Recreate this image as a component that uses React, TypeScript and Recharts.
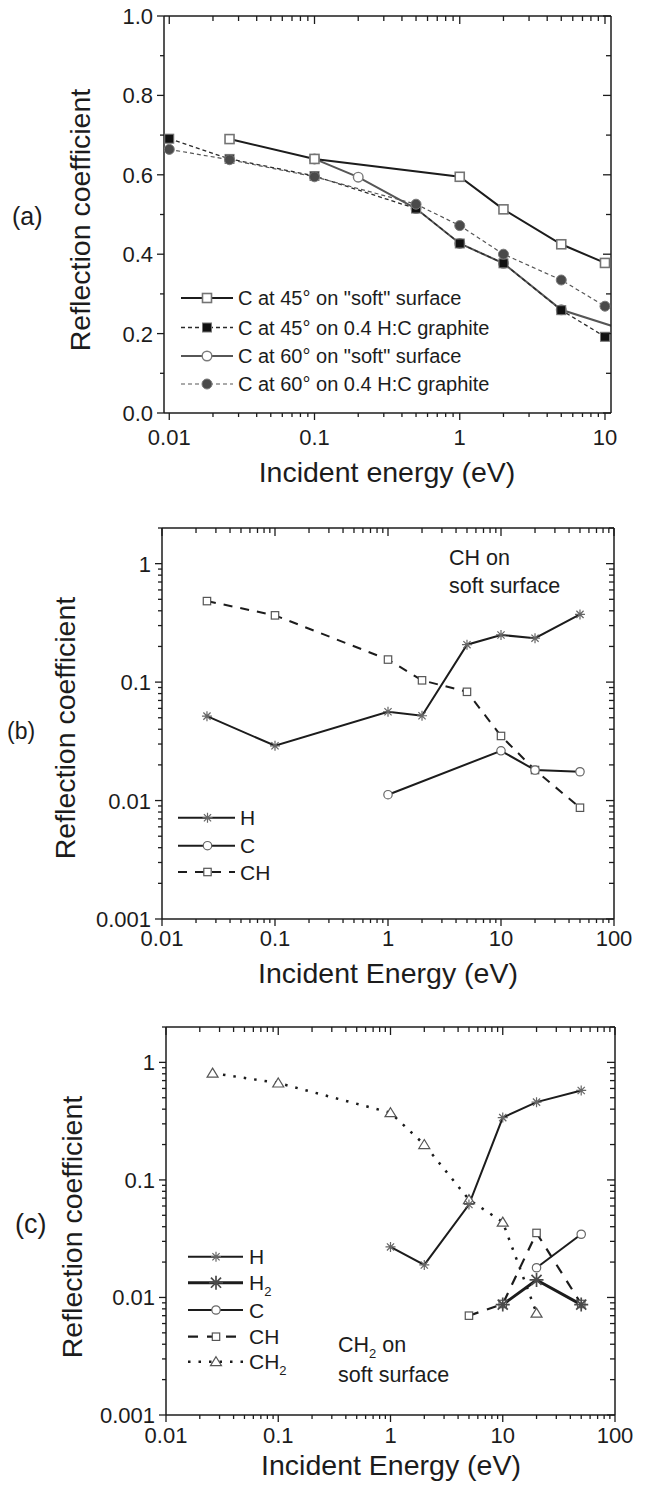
import React from "react";
import { Line, LineChart, XAxis, YAxis } from "recharts";

const FONT = '"Liberation Sans", Arial, Helvetica, sans-serif';
const INK = "#1c1c1c";
const MID = "#565656";
const EDGE = "#747474";
const W = 647;

// (a) C on "soft" surface vs. 0.4 H:C graphite (linear R)
const A_E45_SOFT = [0.026, 0.1, 1, 2, 5, 10];
const A_R45_SOFT = [0.69, 0.64, 0.595, 0.513, 0.425, 0.378];
const A_E45_GRAPH = [0.01, 0.026, 0.1, 0.5, 1, 2, 5, 10];
const A_R45_GRAPH = [0.691, 0.64, 0.597, 0.515, 0.427, 0.377, 0.259, 0.192];
const A_E60_SOFT = [0.1, 0.2, 0.5, 1, 2, 5, 20];
const A_R60_SOFT = [0.64, 0.594, 0.515, 0.427, 0.377, 0.26, 0.19];
const A_E60_GRAPH = [0.01, 0.026, 0.1, 0.5, 1, 2, 5, 10];
const A_R60_GRAPH = [0.664, 0.638, 0.595, 0.526, 0.472, 0.4, 0.335, 0.269];

// (b) CH on soft surface
const B_E_H = [0.025, 0.1, 1, 2, 5, 10, 20, 50];
const B_R_H = [0.0516, 0.029, 0.0562, 0.052, 0.207, 0.25, 0.235, 0.373];
const B_E_C = [1, 10, 20, 50];
const B_R_C = [0.0112, 0.0263, 0.0181, 0.0175];
const B_E_CH = [0.025, 0.1, 1, 2, 5, 10, 20, 50];
const B_R_CH = [0.483, 0.366, 0.155, 0.1035, 0.0828, 0.0351, 0.0181, 0.0087];

// (c) CH2 on soft surface
const C_E_H = [1, 2, 5, 10, 20, 50];
const C_R_H = [0.0269, 0.0189, 0.0618, 0.339, 0.459, 0.577];
const C_E_H2 = [10, 20, 50];
const C_R_H2 = [0.0087, 0.0141, 0.0087];
const C_E_C = [20, 50];
const C_R_C = [0.0179, 0.0345];
const C_E_CH = [5, 10, 20, 50];
const C_R_CH = [0.007, 0.0088, 0.0354, 0.0088];
const C_E_CH2 = [0.026, 0.1, 1, 2, 5, 10, 20];
const C_R_CH2 = [0.81, 0.668, 0.373, 0.2, 0.068, 0.0438, 0.00736];

// ticks
const A_X_MAJOR = [0.01, 0.1, 1, 10];
const BC_X_MAJOR = [0.01, 0.1, 1, 10, 100];
const BC_Y_MAJOR = [0.001, 0.01, 0.1, 1];
const A_Y_TICKS = [0, 0.1, 0.2, 0.3, 0.4, 0.5, 0.6, 0.7, 0.8, 0.9, 1.0];
const MINOR_STEPS = [2, 3, 4, 5, 6, 7, 8, 9];

const withMinor = (majors: number[], last: number) => {
  const out: number[] = [];
  majors.forEach((m) => {
    out.push(m);
    MINOR_STEPS.forEach((k) => {
      const v = +(m * k).toPrecision(6);
      if (v <= last) out.push(v);
    });
  });
  return out;
};

const isDecade = (v: number) => Math.abs(Math.log10(v) - Math.round(Math.log10(v))) < 1e-6;
const rows = (e: number[], r: number[]) => e.map((x, i) => ({ e: x, r: r[i] }));

type Mark = { kind: "sq" | "circ" | "star" | "tri"; size: number; fill: string; stroke: string; sw: number };
type Series = { id: string; e: number[]; r: number[]; stroke: string; width: number; dash?: string; mark: Mark };

function drawMark(m: Mark, cx: number, cy: number, key?: string) {
  const s = m.size;
  if (cx == null || cy == null || isNaN(cx) || isNaN(cy)) return <g key={key} />;
  if (m.kind === "sq")
    return <rect key={key} x={cx - s} y={cy - s} width={2 * s} height={2 * s} fill={m.fill} stroke={m.stroke} strokeWidth={m.sw} />;
  if (m.kind === "circ")
    return <circle key={key} cx={cx} cy={cy} r={s} fill={m.fill} stroke={m.stroke} strokeWidth={m.sw} />;
  if (m.kind === "tri")
    return (
      <path
        key={key}
        d={`M${cx},${cy - s} L${cx + s * 1.1},${cy + s * 0.8} L${cx - s * 1.1},${cy + s * 0.8} Z`}
        fill={m.fill}
        stroke={m.stroke}
        strokeWidth={m.sw}
      />
    );
  const d = s * 0.72;
  return (
    <path
      key={key}
      d={`M${cx - s},${cy} H${cx + s} M${cx},${cy - s} V${cy + s} M${cx - d},${cy - d} L${cx + d},${cy + d} M${cx - d},${cy + d} L${cx + d},${cy - d}`}
      fill="none"
      stroke={m.stroke}
      strokeWidth={m.sw}
    />
  );
}

/* ---------- series styles ---------- */
const SQ_A: Mark = { kind: "sq", size: 4.5, fill: "#fff", stroke: EDGE, sw: 1.6 };
const SQF_A: Mark = { kind: "sq", size: 4.5, fill: "#111", stroke: "#777", sw: 1 };
const CI_A: Mark = { kind: "circ", size: 4.8, fill: "#fff", stroke: "#7a7a7a", sw: 1.4 };
const CIF_A: Mark = { kind: "circ", size: 5, fill: "#4a4a4a", stroke: "#7a7a7a", sw: 1 };

const STAR: Mark = { kind: "star", size: 5, fill: "none", stroke: "#666", sw: 1.2 };
const STAR_BIG: Mark = { kind: "star", size: 7, fill: "none", stroke: "#4a4a4a", sw: 1.7 };
const CIRC: Mark = { kind: "circ", size: 4.2, fill: "#fff", stroke: "#666", sw: 1.2 };
const SQ: Mark = { kind: "sq", size: 3.7, fill: "#fff", stroke: "#555", sw: 1.2 };
const TRI: Mark = { kind: "tri", size: 5, fill: "#fff", stroke: "#555", sw: 1.2 };

const A_45S: Series = { id: "a45s", e: A_E45_SOFT, r: A_R45_SOFT, stroke: INK, width: 2, mark: SQ_A };
const A_45G: Series = { id: "a45g", e: A_E45_GRAPH, r: A_R45_GRAPH, stroke: "#2a2a2a", width: 1.3, dash: "4 3", mark: SQF_A };
const A_60S: Series = { id: "a60s", e: A_E60_SOFT, r: A_R60_SOFT, stroke: MID, width: 2, mark: CI_A };
const A_60G: Series = { id: "a60g", e: A_E60_GRAPH, r: A_R60_GRAPH, stroke: MID, width: 1.2, dash: "4 3", mark: CIF_A };

const B_H: Series = { id: "bh", e: B_E_H, r: B_R_H, stroke: INK, width: 2, mark: STAR };
const B_C: Series = { id: "bc", e: B_E_C, r: B_R_C, stroke: INK, width: 2, mark: CIRC };
const B_CH: Series = { id: "bch", e: B_E_CH, r: B_R_CH, stroke: INK, width: 2, dash: "9 8", mark: SQ };

const C_H: Series = { id: "ch", e: C_E_H, r: C_R_H, stroke: INK, width: 2, mark: STAR };
const C_H2: Series = { id: "ch2", e: C_E_H2, r: C_R_H2, stroke: INK, width: 3, mark: STAR_BIG };
const C_C: Series = { id: "cc", e: C_E_C, r: C_R_C, stroke: INK, width: 2, mark: CIRC };
const C_CH: Series = { id: "cch", e: C_E_CH, r: C_R_CH, stroke: INK, width: 2.2, dash: "10 9", mark: SQ };
const C_CH2: Series = { id: "cch2", e: C_E_CH2, r: C_R_CH2, stroke: INK, width: 2.5, dash: "2.5 8", mark: TRI };

/* ---------- panel ---------- */
type PanelProps = {
  top: number;
  height: number;
  mTop: number;
  mRight: number;
  yW: number;
  xH: number;
  xDomain: [number, number];
  xTicks: number[];
  xLabelDy: number;
  yDomain: [number, number];
  yTicks: number[];
  yLog: boolean;
  yMajor: (v: number) => boolean;
  yFmt: (v: number) => string;
  series: Series[];
};

function Panel(p: PanelProps) {
  const axisLine = { stroke: INK, strokeWidth: 1.5 };
  const txt = { fontFamily: FONT, fontSize: 22, fill: INK };
  // plot box edges (mirror axes take 1px each, removed from the margins)
  const bottom = p.height - p.xH;
  const left = p.yW;
  const right = W - p.mRight;
  const top = p.mTop;

  const bottomTick = (t: any) => {
    const major = isDecade(t.payload.value);
    return (
      <g>
        <line x1={t.x} x2={t.x} y1={bottom} y2={bottom + (major ? 7 : 4)} stroke={INK} strokeWidth={1.3} />
        {major && (
          <text x={t.x} y={bottom + p.xLabelDy} textAnchor="middle" {...txt}>
            {String(t.payload.value)}
          </text>
        )}
      </g>
    );
  };
  const topTick = (t: any) => {
    const major = isDecade(t.payload.value);
    return <line x1={t.x} x2={t.x} y1={top} y2={top + (major ? 8 : 5)} stroke={INK} strokeWidth={1.3} />;
  };
  const leftTick = (t: any) => {
    const major = p.yMajor(t.payload.value);
    return (
      <g>
        <line x1={left} x2={left - (major ? 7 : 4)} y1={t.y} y2={t.y} stroke={INK} strokeWidth={1.3} />
        {major && (
          <text x={left - 11} y={t.y + 8} textAnchor="end" {...txt}>
            {p.yFmt(t.payload.value)}
          </text>
        )}
      </g>
    );
  };
  const rightTick = (t: any) => {
    const major = p.yMajor(t.payload.value);
    return <line x1={right} x2={right - (major ? 8 : 5)} y1={t.y} y2={t.y} stroke={INK} strokeWidth={1.3} />;
  };

  const yScale = p.yLog ? "log" : "linear";
  const frameSeries = p.series[p.series.length - 1];

  return (
    <div style={{ position: "absolute", left: 0, top: p.top, width: W, height: p.height }}>
      <LineChart width={W} height={p.height} margin={{ top: p.mTop - 1, right: p.mRight - 1, left: 0, bottom: 0 }}>
        <XAxis
          xAxisId="b"
          dataKey="e"
          type="number"
          scale="log"
          domain={p.xDomain}
          allowDataOverflow
          ticks={p.xTicks}
          interval={0}
          tickSize={0}
          tickMargin={0}
          tickLine={false}
          height={p.xH}
          tick={bottomTick}
          axisLine={axisLine}
        />
        <XAxis
          xAxisId="t"
          orientation="top"
          dataKey="e"
          type="number"
          scale="log"
          domain={p.xDomain}
          allowDataOverflow
          ticks={p.xTicks}
          interval={0}
          tickSize={0}
          tickMargin={0}
          tickLine={false}
          height={1}
          tick={topTick}
          axisLine={axisLine}
        />
        <YAxis
          yAxisId="l"
          type="number"
          scale={yScale}
          domain={p.yDomain}
          allowDataOverflow
          ticks={p.yTicks}
          interval={0}
          tickSize={0}
          tickMargin={0}
          tickLine={false}
          width={p.yW}
          tick={leftTick}
          axisLine={axisLine}
        />
        <YAxis
          yAxisId="r"
          orientation="right"
          type="number"
          scale={yScale}
          domain={p.yDomain}
          allowDataOverflow
          ticks={p.yTicks}
          interval={0}
          tickSize={0}
          tickMargin={0}
          tickLine={false}
          width={1}
          tick={rightTick}
          axisLine={axisLine}
        />
        {/* invisible copy bound to the mirror axes so the frame is drawn */}
        <Line
          xAxisId="t"
          yAxisId="r"
          data={rows(frameSeries.e, frameSeries.r)}
          dataKey="r"
          stroke="none"
          dot={false}
          activeDot={false}
          legendType="none"
          isAnimationActive={false}
        />
        {p.series.map((s) => (
          <Line
            key={s.id}
            name={s.id}
            xAxisId="b"
            yAxisId="l"
            data={rows(s.e, s.r)}
            dataKey="r"
            type="linear"
            stroke={s.stroke}
            strokeWidth={s.width}
            strokeDasharray={s.dash}
            dot={(d: any) => drawMark(s.mark, d.cx, d.cy, `${s.id}-${d.index}`)}
            activeDot={false}
            isAnimationActive={false}
          />
        ))}
      </LineChart>
    </div>
  );
}

/* ---------- legends / texts ---------- */
function LegendRow(props: {
  s: Series;
  x1: number;
  x2: number;
  mx: number;
  tx: number;
  cy: number;
  fs: number;
  children: React.ReactNode;
}) {
  const { s, x1, x2, mx, tx, cy, fs, children } = props;
  return (
    <g>
      <line x1={x1} x2={x2} y1={cy} y2={cy} stroke={s.stroke} strokeWidth={s.width} strokeDasharray={s.dash} />
      {drawMark(s.mark, mx, cy)}
      <text x={tx} y={cy + fs * 0.36} fontFamily={FONT} fontSize={fs} fill={INK}>
        {children}
      </text>
    </g>
  );
}

function Sub({ children }: { children: React.ReactNode }) {
  return (
    <tspan fontSize={13} dy={5.5}>
      {children}
    </tspan>
  );
}

function Overlay() {
  const title = { fontFamily: FONT, fontSize: 28.5, fill: INK };
  const la = { x1: 181, x2: 233, mx: 207, tx: 238, fs: 20 };
  const lb = { x1: 178, x2: 235, mx: 207.5, tx: 240, fs: 21 };
  const lc = { x1: 188, x2: 243, mx: 216, tx: 249, fs: 21 };
  return (
    <svg width={W} height={1486} style={{ position: "absolute", left: 0, top: 0, pointerEvents: "none" }}>
      {/* (a) */}
      <text x={12} y={225} fontFamily={FONT} fontSize={25} fill={INK}>(a)</text>
      <text transform="translate(90,220) rotate(-90)" textAnchor="middle" {...title}>Reflection coefficient</text>
      <text x={387} y={482} textAnchor="middle" {...title}>Incident energy (eV)</text>
      <LegendRow s={A_45S} {...la} cy={298}>C at 45° on "soft" surface</LegendRow>
      <LegendRow s={A_45G} {...la} cy={327.5}>C at 45° on 0.4 H:C graphite</LegendRow>
      <LegendRow s={A_60S} {...la} cy={356}>C at 60° on "soft" surface</LegendRow>
      <LegendRow s={A_60G} {...la} cy={384}>C at 60° on 0.4 H:C graphite</LegendRow>

      {/* (b) */}
      <text x={7} y={739} fontFamily={FONT} fontSize={23} fill={INK}>(b)</text>
      <text transform="translate(75,728) rotate(-90)" textAnchor="middle" {...title}>Reflection coefficient</text>
      <text x={388} y={983} textAnchor="middle" {...title}>Incident Energy (eV)</text>
      <text x={449} y={565} fontFamily={FONT} fontSize={21.5} fill={INK}>CH on</text>
      <text x={449} y={593} fontFamily={FONT} fontSize={21.5} fill={INK}>soft surface</text>
      <LegendRow s={B_H} {...lb} cy={817.7}>H</LegendRow>
      <LegendRow s={B_C} {...lb} cy={845.7}>C</LegendRow>
      <LegendRow s={B_CH} {...lb} cy={872}>CH</LegendRow>

      {/* (c) */}
      <text x={15} y={1233} fontFamily={FONT} fontSize={27} fill={INK}>(c)</text>
      <text transform="translate(82,1227) rotate(-90)" textAnchor="middle" {...title}>Reflection coefficient</text>
      <text x={391} y={1475} textAnchor="middle" {...title}>Incident Energy (eV)</text>
      <text x={338} y={1352} fontFamily={FONT} fontSize={21.5} fill={INK}>
        CH<Sub>2</Sub>
        <tspan dy={-5.5}> on</tspan>
      </text>
      <text x={338} y={1382} fontFamily={FONT} fontSize={21.5} fill={INK}>soft surface</text>
      <LegendRow s={C_H} {...lc} cy={1256.7}>H</LegendRow>
      <LegendRow s={C_H2} {...lc} cy={1282.7}>
        H<Sub>2</Sub>
      </LegendRow>
      <LegendRow s={C_C} {...lc} cy={1310}>C</LegendRow>
      <LegendRow s={C_CH} {...lc} cy={1336.7}>CH</LegendRow>
      <LegendRow s={C_CH2} {...lc} cy={1361.7}>
        CH<Sub>2</Sub>
      </LegendRow>
    </svg>
  );
}

export default function App() {
  const aX = withMinor(A_X_MAJOR, 11);
  const bcX = withMinor(BC_X_MAJOR, 100);
  const bcY = withMinor(BC_Y_MAJOR, 2);
  const aYMajor = (v: number) => Math.round(v * 10) % 2 === 0;
  return (
    <div style={{ position: "absolute", left: 0, top: 0, width: W, height: 1486, background: "#fff", overflow: "hidden" }}>
      <Panel
        top={0}
        height={495}
        mTop={16}
        mRight={36}
        yW={164}
        xH={82}
        xDomain={[0.0092, 11]}
        xTicks={aX}
        xLabelDy={32}
        yDomain={[0, 1]}
        yTicks={A_Y_TICKS}
        yLog={false}
        yMajor={aYMajor}
        yFmt={(v) => v.toFixed(1)}
        series={[A_60S, A_45S, A_45G, A_60G]}
      />
      <Panel
        top={495}
        height={505}
        mTop={33}
        mRight={33}
        yW={162}
        xH={81}
        xDomain={[0.01, 100]}
        xTicks={bcX}
        xLabelDy={27}
        yDomain={[0.001, 2]}
        yTicks={bcY}
        yLog
        yMajor={isDecade}
        yFmt={(v) => String(v)}
        series={[B_CH, B_C, B_H]}
      />
      <Panel
        top={1000}
        height={486}
        mTop={27}
        mRight={32}
        yW={166}
        xH={71}
        xDomain={[0.01, 100]}
        xTicks={bcX}
        xLabelDy={28}
        yDomain={[0.001, 2]}
        yTicks={bcY}
        yLog
        yMajor={isDecade}
        yFmt={(v) => String(v)}
        series={[C_CH2, C_CH, C_C, C_H, C_H2]}
      />
      <Overlay />
    </div>
  );
}
